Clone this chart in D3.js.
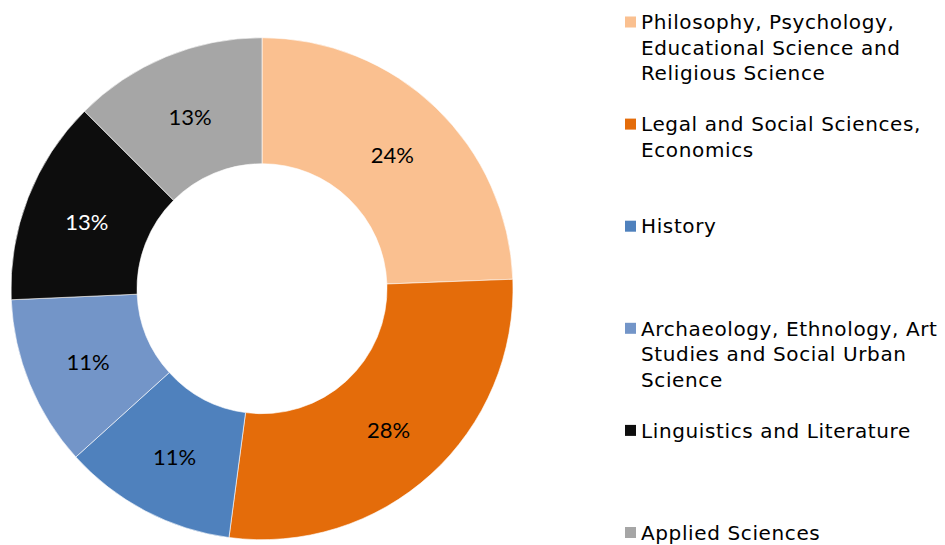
<!DOCTYPE html>
<html><head><meta charset="utf-8">
<script src="https://cdn.jsdelivr.net/npm/d3@7/dist/d3.min.js"></script>
<style>html,body{margin:0;padding:0;background:#fff;}svg{display:block;}</style>
</head><body>
<svg id="chart" width="945" height="545"></svg>
<script>
const categories = [
  "Philosophy, Psychology,\nEducational Science and\nReligious Science",
  "Legal and Social Sciences,\nEconomics",
  "History",
  "Archaeology, Ethnology, Art\nStudies and Social Urban\nScience",
  "Linguistics and Literature",
  "Applied Sciences"
];
const values = [24.4, 27.7, 11.2, 11.0, 13.2, 12.5];
const colors = ["#FAC090", "#E46C0A", "#4F81BD", "#7395C8", "#0D0D0D", "#A6A6A6"];
const labelColors = ["#000", "#000", "#000", "#000", "#fff", "#000"];

const svg = d3.select("#chart");
const cx = 262, cy = 288.7, rOuter = 251, rInner = 125;
const data = categories.map((c, i) => ({name: c, value: values[i], color: colors[i], lc: labelColors[i]}));
const pie = d3.pie().value(d => d.value).sort(null);
const arc = d3.arc().innerRadius(rInner).outerRadius(rOuter);
const labelArc = d3.arc().innerRadius((rInner + rOuter) / 2).outerRadius((rInner + rOuter) / 2);
const total = d3.sum(values);
const g = svg.append("g").attr("transform", `translate(${cx},${cy})`);
const arcs = pie(data);
g.selectAll("path").data(arcs).join("path")
  .attr("d", arc).attr("fill", d => d.data.color)
  .attr("stroke", "#fff").attr("stroke-width", 0.6);
g.selectAll("text").data(arcs).join("text")
  .attr("transform", d => `translate(${labelArc.centroid(d)})`)
  .attr("text-anchor", "middle").attr("dy", "0.45em")
  .attr("font-family", "Lato, 'Open Sans', sans-serif").attr("font-size", 22)
  .attr("fill", d => d.data.lc)
  .text(d => Math.round(d.data.value / total * 100) + "%");

const legend = svg.append("g");
const ly0 = 22, lstep = 102.1, lineH = 25.5;
data.forEach((d, i) => {
  const y = ly0 + i * lstep;
  legend.append("rect").attr("x", 625).attr("y", y - 5.5).attr("width", 11).attr("height", 11).attr("fill", d.color);
  const t = legend.append("text").attr("x", 641).attr("y", y)
    .attr("font-family", "'DejaVu Sans', Verdana, sans-serif").attr("font-size", 20)
    .attr("letter-spacing", 0.62).attr("fill", "#000");
  d.name.split("\n").forEach((line, j) => {
    t.append("tspan").attr("x", 641).attr("y", y + j * lineH).attr("dy", "0.36em").text(line);
  });
});
</script>
</body></html>
